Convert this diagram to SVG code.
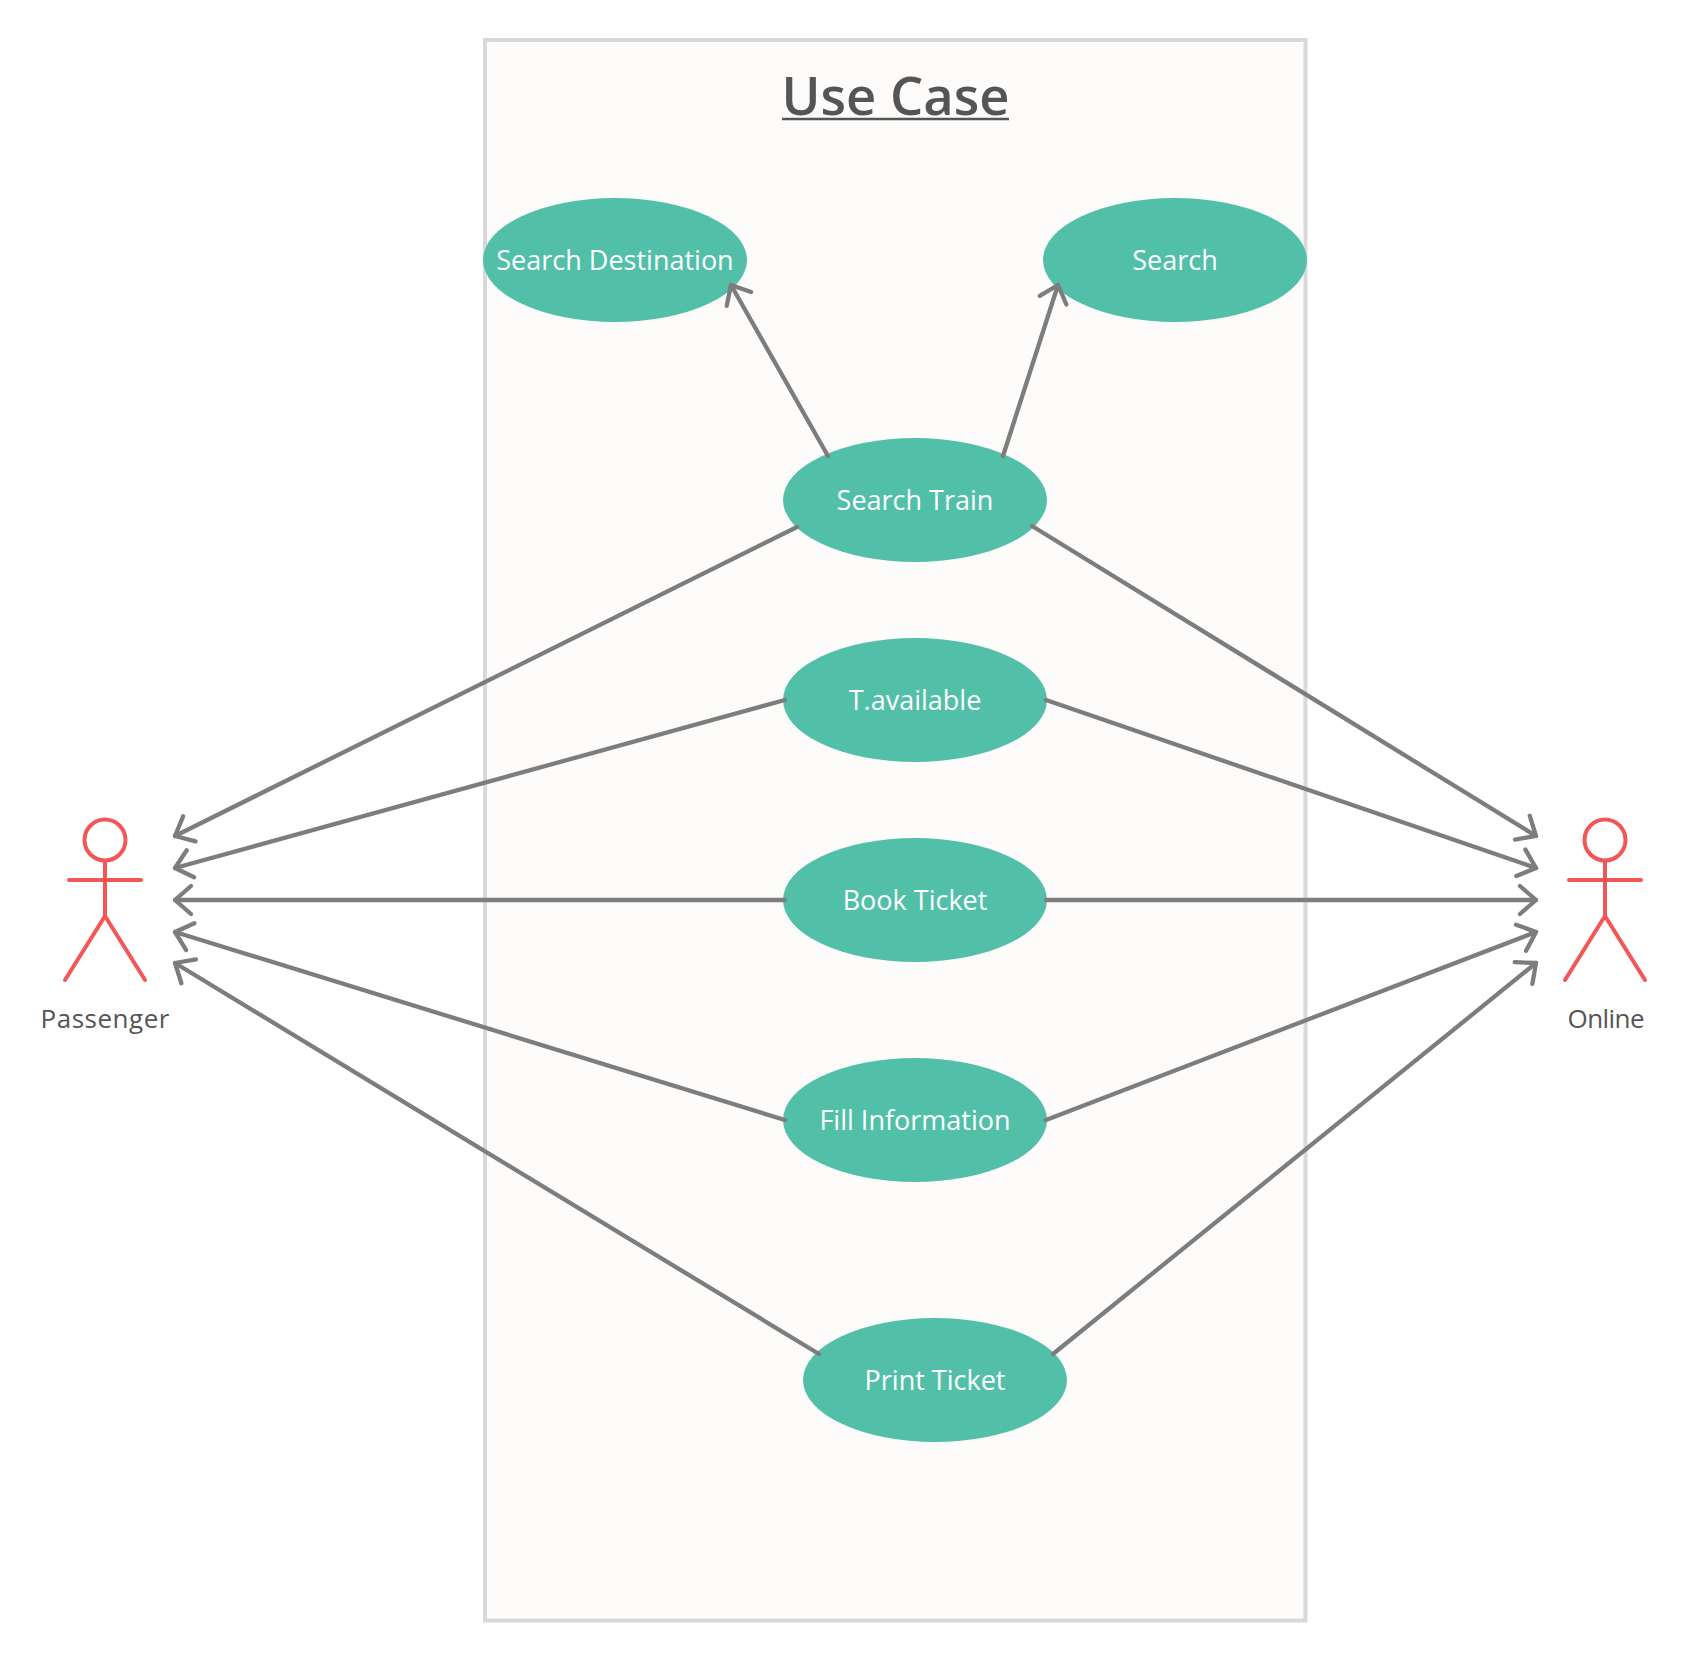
<svg xmlns="http://www.w3.org/2000/svg" width="1686" height="1660" viewBox="0 0 1686 1660">
<style>
text{font-family:"Open Sans","Noto Sans","Liberation Sans",sans-serif;text-anchor:middle}
.uc ellipse{fill:#52c0a9}
.uc text{fill:#fff;font-size:27px}
.actor *{fill:none;stroke:#f25656;stroke-width:4;stroke-linecap:round;stroke-linejoin:round}
.actor text{fill:#555;stroke:none;font-size:26px}
#connectors line{stroke:#7d7d7d;stroke-width:4.3;stroke-linecap:round;marker-end:url(#open)}
</style>
<defs>
<marker id="open" markerUnits="userSpaceOnUse" markerWidth="40" markerHeight="40" refX="24" refY="20" orient="auto" viewBox="0 0 40 40" overflow="visible">
<path d="M8,6 L24,20 L8,34" fill="none" stroke="#7d7d7d" stroke-width="4.3" stroke-linecap="round" stroke-linejoin="round"/>
</marker>
</defs>
<rect width="1686" height="1660" fill="#fff"/>
<g id="boundary">
<rect x="485" y="40" width="820.500" height="1580.500" fill="#fdfcfa" stroke="#d9d9d9" stroke-width="4"/>
<text x="895.500" y="115" font-size="52.500" font-weight="600" fill="#555">Use Case</text>
<line x1="782" y1="119" x2="1009" y2="119" stroke="#555" stroke-width="2.500"/>
</g>
<g id="uc-search-destination" class="uc"><ellipse cx="615" cy="260" rx="132" ry="62"/><text x="615" y="270">Search Destination</text></g>
<g id="uc-search" class="uc"><ellipse cx="1175" cy="260" rx="132" ry="62"/><text x="1175" y="270">Search</text></g>
<g id="uc-search-train" class="uc"><ellipse cx="915" cy="500" rx="132" ry="62"/><text x="915" y="510">Search Train</text></g>
<g id="uc-t-available" class="uc"><ellipse cx="915" cy="700" rx="132" ry="62"/><text x="915" y="710">T.available</text></g>
<g id="uc-book-ticket" class="uc"><ellipse cx="915" cy="900" rx="132" ry="62"/><text x="915" y="910">Book Ticket</text></g>
<g id="uc-fill-information" class="uc"><ellipse cx="915" cy="1120" rx="132" ry="62"/><text x="915" y="1130">Fill Information</text></g>
<g id="uc-print-ticket" class="uc"><ellipse cx="935" cy="1380" rx="132" ry="62"/><text x="935" y="1390">Print Ticket</text></g>
<g id="actor-passenger" class="actor">
<circle cx="105" cy="840" r="20.500"/>
<path d="M105,861V916M69,880H141M65,980L105,916L145,980"/>
<text x="105" y="1028" textLength="129">Passenger</text>
</g>
<g id="actor-online" class="actor">
<circle cx="1605" cy="840" r="20.500"/>
<path d="M1605,861V916M1569,880H1641M1565,980L1605,916L1645,980"/>
<text x="1606" y="1028" textLength="77">Online</text>
</g>
<g id="connectors">
<line x1="828" y1="456" x2="731" y2="285"/>
<line x1="1003" y1="456" x2="1058" y2="285"/>
<line x1="797" y1="527" x2="175" y2="836"/>
<line x1="785" y1="700" x2="175" y2="868"/>
<line x1="785" y1="900" x2="175" y2="900"/>
<line x1="785" y1="1120" x2="175" y2="932"/>
<line x1="819" y1="1354" x2="175" y2="963"/>
<line x1="1032" y1="526" x2="1536" y2="836"/>
<line x1="1046" y1="700" x2="1536" y2="868"/>
<line x1="1046" y1="900" x2="1536" y2="900"/>
<line x1="1046" y1="1120" x2="1536" y2="932"/>
<line x1="1053" y1="1354" x2="1536" y2="963"/>
</g>
</svg>
